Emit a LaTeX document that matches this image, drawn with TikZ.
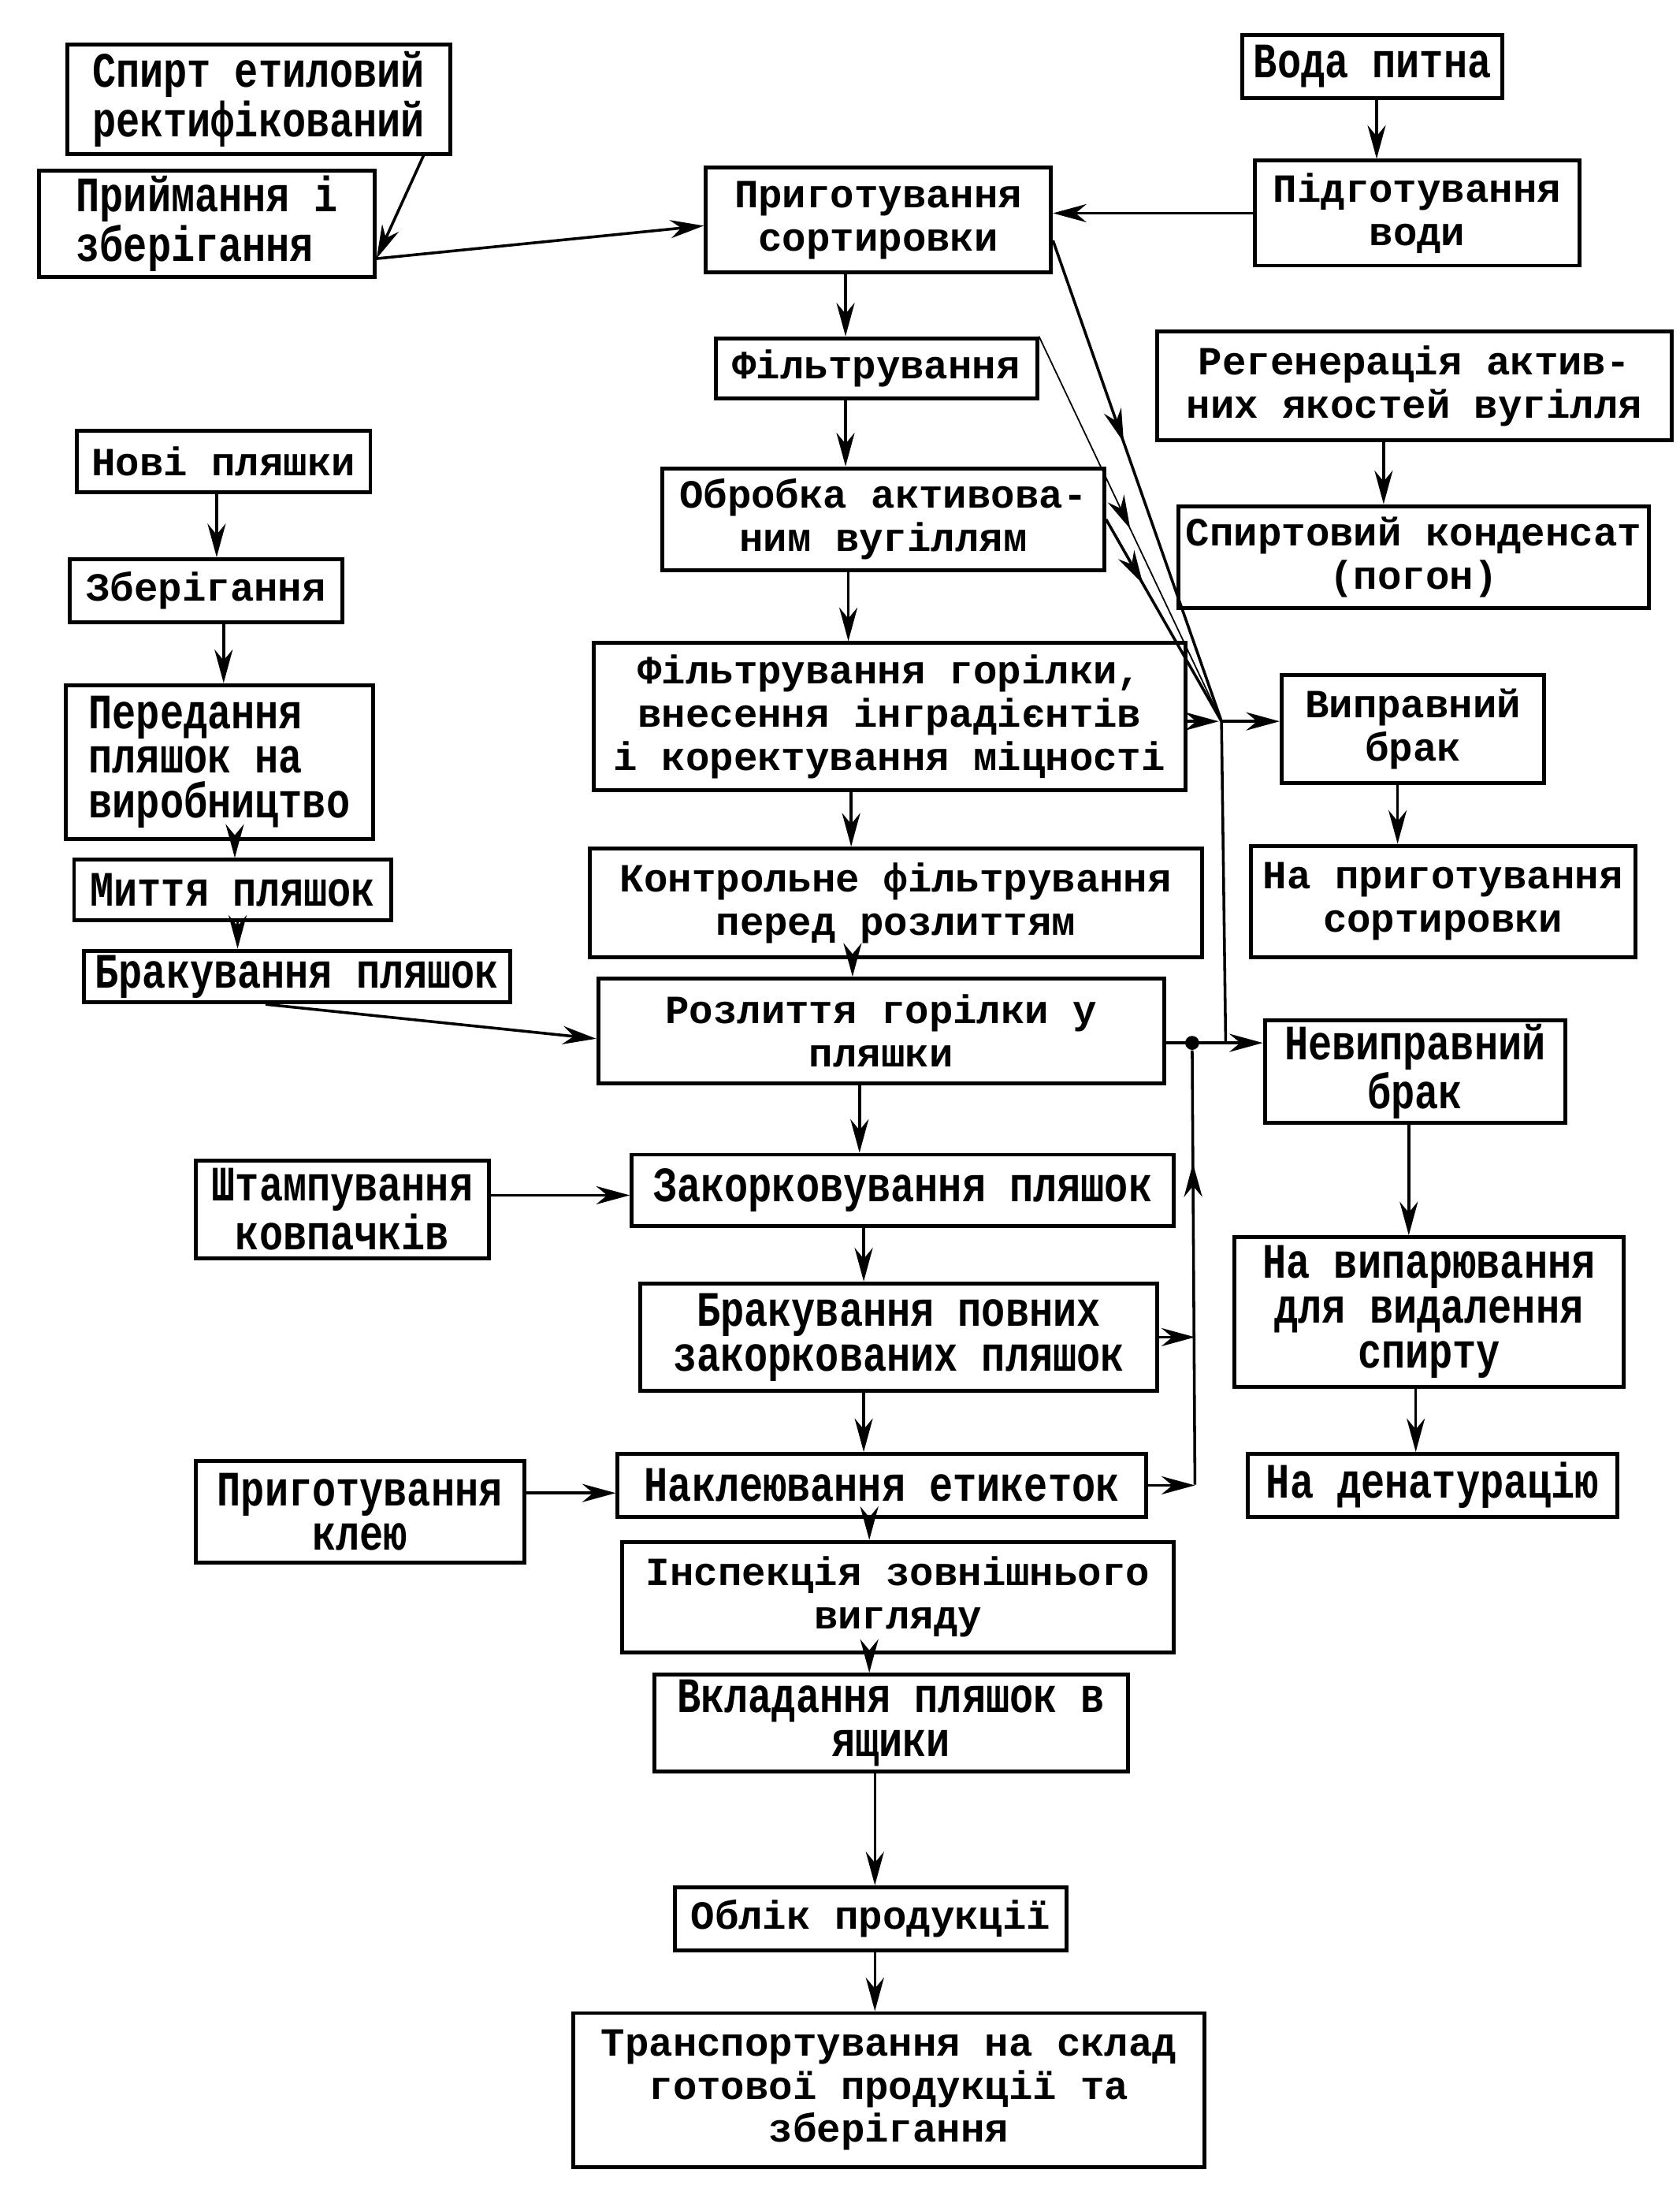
\documentclass[tikz,border=0pt]{standalone}
\usepackage{fontspec}
\newfontfamily\wideface{Liberation Mono}
\newfontfamily\condface[FakeStretch=0.8]{Liberation Mono}
\usetikzlibrary{arrows.meta,decorations.markings}
\newcommand{\wf}{\wideface\bfseries\fontsize{14.3pt}{15.5pt}\selectfont}
\newcommand{\cf}{\condface\bfseries\fontsize{17.7pt}{16pt}\selectfont}
\tikzset{
 bx/.style 2 args={draw, line width=1.4pt, inner sep=0pt, minimum width=#1*0.5pt, minimum height=#2*0.5pt, align=center},
 wd/.style={font=\wf},
 cd/.style={font=\cf},
 con/.style={line width=1pt},
 arr/.style={con, -{Stealth[length=12pt,width=6.5pt]}},
 midarr/.style={con, postaction={decorate}, decoration={markings, mark=at position #1 with {\arrow{Stealth[length=12pt,width=6.5pt]}}}},
 dotj/.style={circle, fill, inner sep=0pt, minimum size=5pt},
}
\begin{document}
\begin{tikzpicture}[x=0.5pt,y=-0.5pt]
\useasboundingbox (0,0) rectangle (1202,1568);
\fill[white] (0,0) rectangle (1202,1568);
% left column
\node[bx={274}{78},cd,align=left] (spirt) at (185,71) {Спирт етиловий\\ректифікований};
\node[bx={240}{76},cd,align=left] (pryim) at (148,160) {Приймання і\\зберігання};
\node[bx={210}{44},wd] (novi) at (160,330) {Нові пляшки};
\node[bx={195}{45},wd] (zber) at (147.5,422.5) {Зберігання};
\node[bx={220}{110},cd,align=left] (pered) at (157,545) {Передання\\пляшок на\\виробництво};
\node[bx={227}{43},cd] (myttya) at (166.5,636.5) {Миття пляшок};
\node[bx={305}{37},cd] (brakpl) at (212.5,698.5) {Бракування пляшок};
\node[bx={210}{70},cd] (shtamp) at (245,865) {Штампування\\ковпачків};
\node[bx={235}{73},cd] (kley) at (257.5,1081.5) {Приготування\\клею};
% middle column
\node[bx={247}{75},wd] (prygot) at (628.5,157.5) {Приготування\\сортировки};
\node[bx={230}{43},wd] (filtr) at (627,263.5) {Фільтрування};
\node[bx={316}{73},wd] (obrob) at (632,371.5) {Обробка активова-\\ним вугіллям};
\node[bx={423}{105},wd] (filtrg) at (636.5,512.5) {Фільтрування горілки,\\внесення інградієнтів\\і коректування міцності};
\node[bx={438}{78},wd] (kontr) at (641,646) {Контрольне фільтрування\\перед розлиттям};
\node[bx={405}{75},wd] (rozl) at (630.5,737.5) {Розлиття горілки у\\пляшки};
\node[bx={388}{51},cd] (zakork) at (646,851.5) {Закорковування пляшок};
\node[bx={370}{77},cd] (brakpov) at (643,956.5) {Бракування повних\\закоркованих пляшок};
\node[bx={378}{45},cd] (nakl) at (631,1062.5) {Наклеювання етикеток};
\node[bx={395}{79},wd] (insp) at (642.5,1142.5) {Інспекція зовнішнього\\вигляду};
\node[bx={339}{69},cd] (vklad) at (637.5,1232.5) {Вкладання пляшок в\\ящики};
\node[bx={280}{45},wd] (oblik) at (623,1372.5) {Облік продукції};
\node[bx={452}{110},wd] (transp) at (636,1495) {Транспортування на склад\\готової продукції та\\зберігання};
% right column
\node[bx={186}{45},cd] (voda) at (982,47.5) {Вода питна};
\node[bx={232}{75},wd] (pidgot) at (1014,152.5) {Підготування\\води};
\node[bx={368}{78},wd] (regen) at (1012,276) {Регенерація актив-\\них якостей вугілля};
\node[bx={337}{73},wd] (kond) at (1011.5,398.5) {Спиртовий конденсат\\(погон)};
\node[bx={188}{77},wd] (vypr) at (1011,521.5) {Виправний\\брак};
\node[bx={275}{80},wd] (naprig) at (1032.5,645) {На приготування\\сортировки};
\node[bx={215}{73},cd] (nevypr) at (1012.5,766.5) {Невиправний\\брак};
\node[bx={279}{107},cd] (vypar) at (1022.5,938.5) {На випарювання\\для видалення\\спирту};
\node[bx={264}{45},cd] (denat) at (1025,1062.5) {На денатурацію};
% helper coordinates
\coordinate (j1) at (874,516);
\coordinate (j3) at (877,746);
\node[dotj] (j2) at (853,746) {};
\coordinate (j4) at (855,1062);
\coordinate (x303) at (303,0);
\coordinate (x190) at (190,0);
\coordinate (c605) at (605,0);
\coordinate (c607) at (607,0);
\coordinate (c609) at (609,0);
\coordinate (c610) at (610,0);
\coordinate (c615) at (615,0);
\coordinate (c618) at (618,0);
\coordinate (c622) at (622,0);
\coordinate (c626) at (626,0);
\coordinate (c155) at (155,0);
\coordinate (c160) at (160,0);
\coordinate (c168) at (168,0);
\coordinate (c170) at (170,0);
\coordinate (c985) at (985,0);
\coordinate (c990) at (990,0);
\coordinate (c1000) at (1000,0);
\coordinate (c1008) at (1008,0);
\coordinate (c1013) at (1013,0);
% top-left inputs
\draw[arr] (spirt.south -| x303) -- ([yshift=-12.5pt]pryim.east);
\draw[arr] ([yshift=-12.5pt]pryim.east) -- ([yshift=-2pt]prygot.west);
\draw[arr] (voda.south -| c985) -- (pidgot.north -| c985);
\draw[arr] (pidgot.west) -- (pidgot.west -| prygot.east);
% main chain
\draw[arr] (prygot.south -| c605) -- (filtr.north -| c605);
\draw[arr] (filtr.south -| c605) -- (obrob.north -| c605);
\draw[arr] (obrob.south -| c607) -- (filtrg.north -| c607);
\draw[arr] (filtrg.south -| c609) -- (kontr.north -| c609);
\draw[arr] (kontr.south -| c610) -- (rozl.north -| c610);
\draw[arr] (rozl.south -| c615) -- (zakork.north -| c615);
\draw[arr] (zakork.south -| c618) -- (brakpov.north -| c618);
\draw[arr] (brakpov.south -| c618) -- (nakl.north -| c618);
\draw[arr] (nakl.south -| c622) -- (insp.north -| c622);
\draw[arr] (insp.south -| c622) -- (vklad.north -| c622);
\draw[arr] (vklad.south -| c626) -- (oblik.north -| c626);
\draw[arr] (oblik.south -| c626) -- (transp.north -| c626);
% bottles chain
\draw[arr] (novi.south -| c155) -- (zber.north -| c155);
\draw[arr] (zber.south -| c160) -- (pered.north -| c160);
\draw[arr] (pered.south -| c168) -- (myttya.north -| c168);
\draw[arr] (myttya.south -| c170) -- (brakpl.north -| c170);
\draw[arr] (brakpl.south -| x190) -- ([yshift=-2.75pt]rozl.west);
\draw[arr] ([yshift=5pt]shtamp.east) -- ([yshift=5pt]shtamp.east -| zakork.west);
\draw[arr] ([yshift=6.75pt]kley.east) -- ([yshift=6.75pt]kley.east -| nakl.west);
% right chains
\draw[arr] (regen.south -| c990) -- (kond.north -| c990);
\draw[arr] (vypr.south -| c1000) -- (naprig.north -| c1000);
\draw[arr] (nevypr.south -| c1008) -- (vypar.north -| c1008);
\draw[arr] (vypar.south -| c1013) -- (denat.north -| c1013);
% reject collection
\draw[midarr=0.42] ([yshift=-7.25pt]prygot.east) -- (j1);
\draw[midarr=0.5, line width=0.5pt] (filtr.north east) -- (j1);
\draw[midarr=0.32] (obrob.east) -- (j1);
\draw[arr] (filtrg.east |- j1) -- ([xshift=-1pt]j1);
\draw[arr] (j1) -- (vypr.west |- j1);
\draw[con] (j1) -- (j3);
\draw[arr] (rozl.east |- j2) -- (nevypr.west |- j2);
\draw[midarr=0.74] (j4) -- (j2);
\draw[arr] (brakpov.east) -- (brakpov.east -| j4);
\draw[arr] (nakl.east) -- (nakl.east -| j4);
\end{tikzpicture}
\end{document}
